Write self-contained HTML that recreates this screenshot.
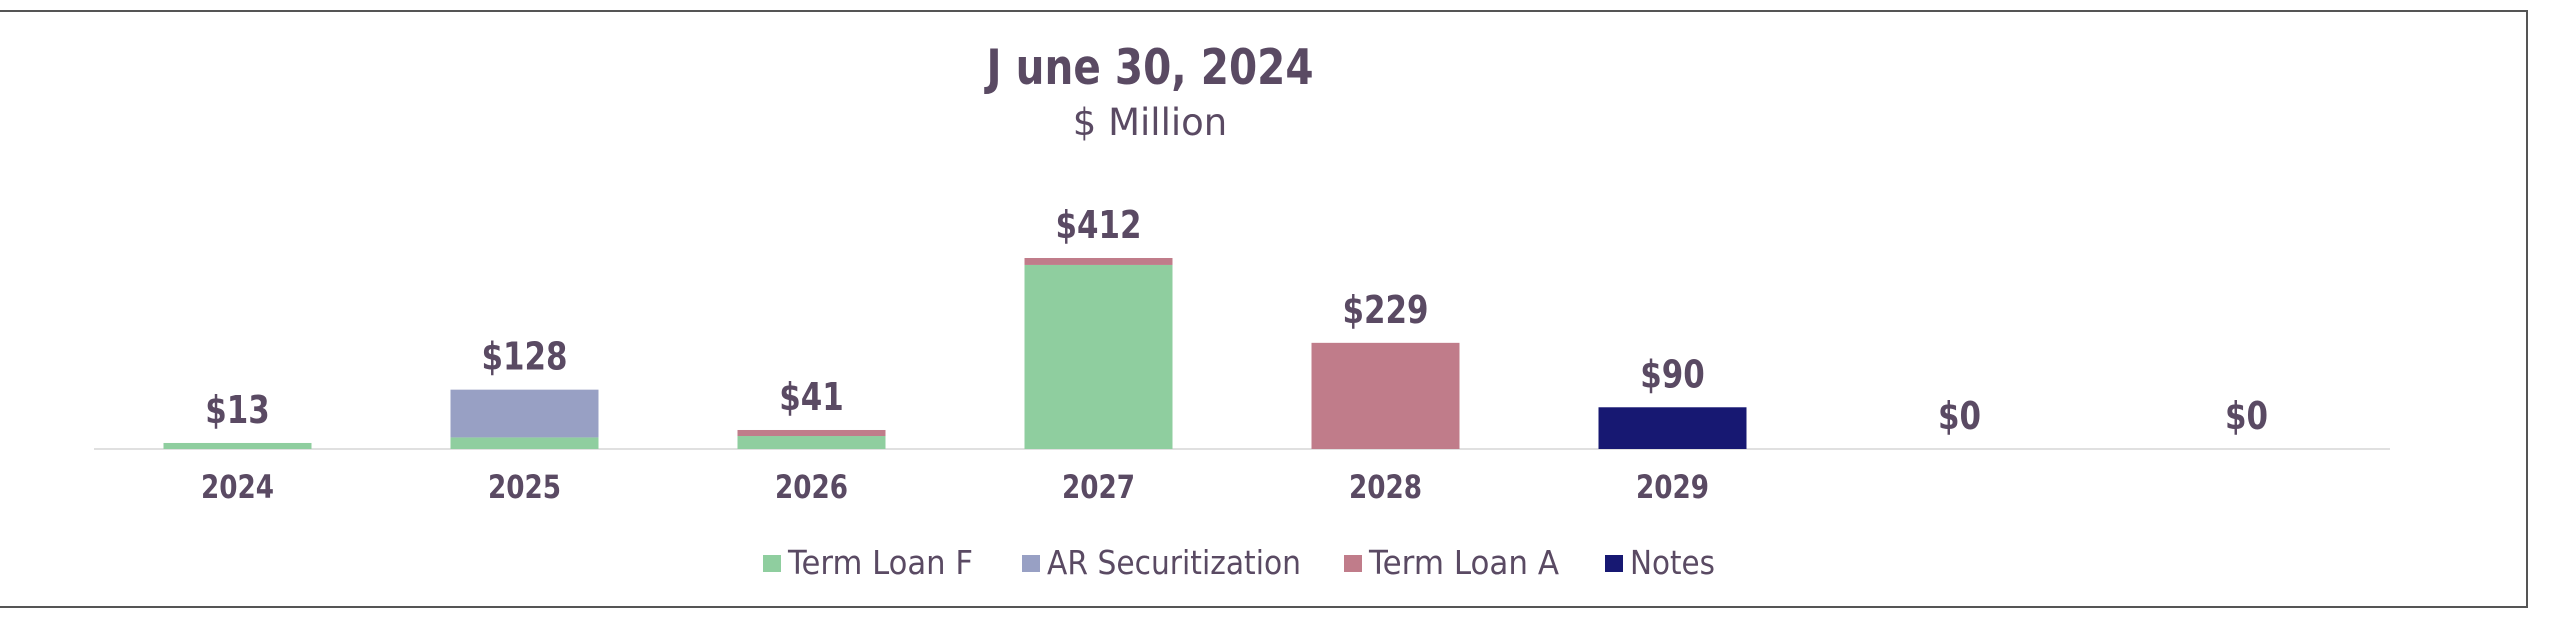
<!DOCTYPE html>
<html><head><meta charset="utf-8"><style>
html,body{margin:0;padding:0;background:#fff;}
svg{display:block;font-family:"DejaVu Sans","Liberation Sans",sans-serif;}
</style></head><body>
<svg id="chart" width="2559" height="624" viewBox="0 0 2559 624" xmlns="http://www.w3.org/2000/svg">
<rect x="-2" y="11" width="2529" height="596" fill="#fff" stroke="#555" stroke-width="2"/>
<text x="1150" y="84" text-anchor="middle" font-size="49" font-weight="bold" fill="#5a4a63" textLength="327" lengthAdjust="spacingAndGlyphs">J une 30, 2024</text>
<text x="1150" y="135" text-anchor="middle" font-size="37" fill="#5a4a63">$ Million</text>
<line x1="94" y1="449" x2="2390" y2="449" stroke="#e0e0e0" stroke-width="2"/>
<g id="bars"></g>
<g id="legend"></g>
</svg>
<script>
const categories = ["2024","2025","2026","2027","2028","2029","",""];
const termLoanF = [13, 25, 28, 397, 0, 0, 0, 0];
const arSecuritization = [0, 103, 0, 0, 0, 0, 0, 0];
const termLoanA = [0, 0, 13, 15, 229, 0, 0, 0];
const notes = [0, 0, 0, 0, 0, 90, 0, 0];
const totalLabels = ["$13","$128","$41","$412","$229","$90","$0","$0"];
const seriesNames = ["Term Loan F","AR Securitization","Term Loan A","Notes"];

const NS="http://www.w3.org/2000/svg";
const colors=["#8fce9f","#98a0c4","#c07c8a","#171872"];
const series=[termLoanF,arSecuritization,termLoanA,notes];
const x0=94, x1=2390, yBase=449, scale=191/412, bw=148;
const band=(x1-x0)/categories.length;
const xC=i=>x0+band*(i+0.5);
const yS=v=>yBase-v*scale;
const g=document.getElementById('bars');
function mk(tag,attrs,parent){const e=document.createElementNS(NS,tag);for(const k in attrs)e.setAttribute(k,attrs[k]);parent.appendChild(e);return e;}
categories.forEach((c,i)=>{
  let cum=0;
  series.forEach((s,j)=>{
    const v=s[i]; if(!v) return;
    const r=mk('rect',{x:xC(i)-bw/2,y:yS(cum+v),width:bw,height:v*scale,fill:colors[j]},g);
    
    
    cum+=v;
  });
  const lbl=totalLabels[i];
  const t=mk('text',{x:xC(i),y:yS(cum)-20,'text-anchor':'middle','font-size':'38','font-weight':'bold',fill:'#5a4a63',textLength:lbl.length*21.5,lengthAdjust:'spacingAndGlyphs'},g);
  t.textContent=lbl;
  
  
  if(c){
    const l=mk('text',{x:xC(i),y:498,'text-anchor':'middle','font-size':'32','font-weight':'bold',fill:'#5a4a63',textLength:73,lengthAdjust:'spacingAndGlyphs'},g);
    l.textContent=c;
    
    
  }
});
const lg=document.getElementById('legend');
const lx=[763,1022,1344,1605], lw=[185,254,190,85];
seriesNames.forEach((n,j)=>{
  const r=mk('rect',{x:lx[j],y:555,width:18,height:17,fill:colors[j]},lg);
  
  
  const t=mk('text',{x:lx[j]+25,y:574,'font-size':'33',fill:'#5a4a63',textLength:lw[j],lengthAdjust:'spacingAndGlyphs'},lg);
  t.textContent=n;
  
  
});
</script>
</body></html>
